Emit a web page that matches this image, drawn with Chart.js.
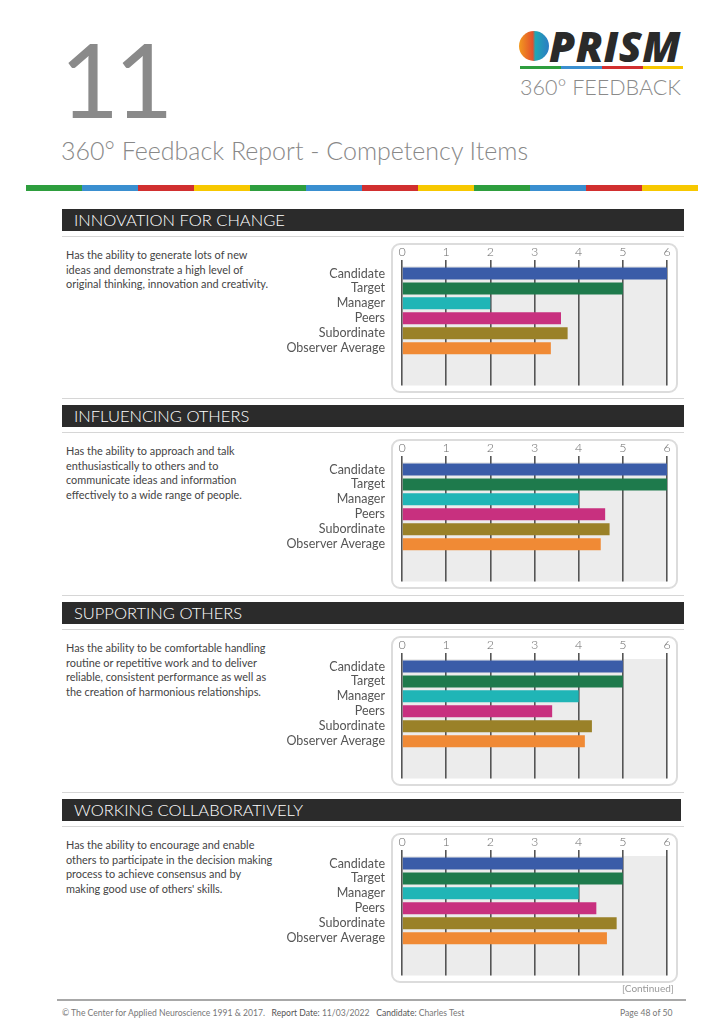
<!DOCTYPE html>
<html><head><meta charset="utf-8">
<script src="https://cdn.jsdelivr.net/npm/chart.js@4.4.1/dist/chart.umd.min.js"></script>
<style>
body{margin:0;width:724px;height:1024px;position:relative;background:#fff;font-family:Lato,"Open Sans",sans-serif;overflow:hidden}
.abs{position:absolute}
.big{left:60px;top:28px;font-size:102px;font-weight:400;color:#8a8a8a;line-height:1;letter-spacing:-5px}
.title{left:61px;top:135px;font-size:25px;font-weight:300;color:#888;white-space:nowrap}
.stripe{top:185px;height:6px;}
.hdr{left:62px;width:622px;height:22px;background:#2b2b2b;color:#fff;font-size:16.5px;font-weight:300;line-height:23px;padding-left:12px;box-sizing:border-box;white-space:nowrap}
.hline{left:62px;width:622px;height:1px;background:#d6d6d6}
.desc{left:66px;width:230px;font-size:10.9px;line-height:14.5px;color:#444;white-space:nowrap}
.box{left:391px;width:287px;height:150px;border:2.5px solid #dcdcdc;border-radius:9px;box-sizing:border-box;background:#fff}
canvas{position:absolute}
.foot{top:1008px;font-size:8.6px;color:#777;white-space:nowrap}
</style></head><body>
<div class="abs big">11</div>
<div class="abs" style="left:519px;top:31px;width:30px;height:30px;border-radius:50%;background:linear-gradient(90deg,#f39a1f 0%,#e2502c 46%,#1fa7b3 54%,#2c7cc4 100%)"></div>
<div class="abs" style="left:549px;top:21px;font-family:'Open Sans';font-weight:800;font-style:italic;font-size:42px;color:#2a2a2a;line-height:50px;letter-spacing:0.5px">PRISM</div>
<div class="abs" style="left:520px;top:66px;width:41px;height:3px;background:#2e9e3e"></div>
<div class="abs" style="left:561px;top:66px;width:41px;height:3px;background:#3a8fd0"></div>
<div class="abs" style="left:602px;top:66px;width:41px;height:3px;background:#d12f2f"></div>
<div class="abs" style="left:643px;top:66px;width:40px;height:3px;background:#f7c800"></div>
<div class="abs" style="left:520px;top:74px;font-size:21.5px;color:#8a8a8a;font-weight:300;line-height:26px;white-space:nowrap;letter-spacing:0px">360° FEEDBACK</div>
<div class="abs title">360° Feedback Report - Competency Items</div>
<div id="stripes"></div>
<div id="sections"></div>
<div class="abs" style="left:622px;top:982px;font-size:10px;color:#999">[Continued]</div>
<div class="abs" style="left:57px;top:999px;width:629px;height:2px;background:#a8a8a8"></div>
<div class="abs foot" style="left:62px">© The Center for Applied Neuroscience 1991 &amp; 2017. &nbsp;&nbsp;<span style="color:#555">Report Date:</span> 11/03/2022 &nbsp;&nbsp;<span style="color:#555">Candidate:</span> Charles Test</div>
<div class="abs foot" style="left:620px">Page 48 of 50</div>
<script>
const categories = ['Candidate','Target','Manager','Peers','Subordinate','Observer Average'];
const tickLabels = ['0','1','2','3','4','5','6'];
const barColors = ['#3a5ca8','#1e7a4c','#20b5b6','#c8307f','#9a8128','#f08a35'];
const innovationValues = [6, 5, 2, 3.6, 3.75, 3.37];
const influencingValues = [6, 6, 4, 4.6, 4.7, 4.5];
const supportingValues = [5, 5, 4, 3.4, 4.3, 4.14];
const collaborativeValues = [5, 5, 4, 4.4, 4.86, 4.64];
const sectionTitles = ['INNOVATION FOR CHANGE','INFLUENCING OTHERS','SUPPORTING OTHERS','WORKING COLLABORATIVELY'];
const sectionDescriptions = [
  ['Has the ability to generate lots of new','ideas and demonstrate a high level of','original thinking, innovation and creativity.'],
  ['Has the ability to approach and talk','enthusiastically to others and to','communicate ideas and information','effectively to a wide range of people.'],
  ['Has the ability to be comfortable handling','routine or repetitive work and to deliver','reliable, consistent performance as well as','the creation of harmonious relationships.'],
  ['Has the ability to encourage and enable','others to participate in the decision making','process to achieve consensus and by',"making good use of others' skills."]
];
const sectionValues = [innovationValues, influencingValues, supportingValues, collaborativeValues];
const sectionTops = [209, 405, 602, 799];

// stripe
const stripeColors = ['#2e9e3e','#3a8fd0','#d12f2f','#f7c800'];
let sh = '';
for (let i = 0; i < 12; i++) {
  const x0 = 26 + i * 56;
  sh += `<div class="abs stripe" style="left:${x0}px;width:56px;background:${stripeColors[i%4]}"></div>`;
}
document.getElementById('stripes').innerHTML = sh;

const bgPlugin = {
  id: 'plotBg',
  beforeDraw(chart) {
    const a = chart.chartArea, c = chart.ctx;
    c.save(); c.fillStyle = '#ececec';
    c.fillRect(a.left, a.top, a.right - a.left, a.bottom - a.top);
    c.restore();
  }
};

const secEl = document.getElementById('sections');
sectionTops.forEach((top, i) => {
  const wrap = document.createElement('div');
  const hdrW = i === 3 ? 619 : 622;
  wrap.innerHTML =
    (i > 0 ? `<div class="abs hline" style="top:${top-7}px"></div>` : '') +
    `<div class="abs hdr" style="top:${top}px;width:${hdrW}px">${sectionTitles[i]}</div>` +
    `<div class="abs hline" style="top:${top+27}px"></div>` +
    `<div class="abs desc" style="top:${top+39}px">${sectionDescriptions[i].join('<br>')}</div>` +
    `<div class="abs box" style="top:${top+34}px"></div>`;
  secEl.appendChild(wrap);
  const cv = document.createElement('canvas');
  cv.style.left = '280px'; cv.style.top = (top + 34) + 'px';
  cv.style.width = '410px'; cv.style.height = '150px';
  cv.width = 410; cv.height = 150;
  secEl.appendChild(cv);
  new Chart(cv, {
    type: 'bar',
    data: {
      labels: [...categories, '', ''],
      datasets: [{
        data: sectionValues[i],
        backgroundColor: barColors,
        borderWidth: 0,
        barPercentage: 0.8,
        categoryPercentage: 1.0
      }]
    },
    options: {
      indexAxis: 'y',
      responsive: false,
      animation: false,
      devicePixelRatio: 1,
      layout: { padding: { left: 0, right: 23, top: 0, bottom: 7 } },
      plugins: { legend: { display: false }, tooltip: { enabled: false } },
      scales: {
        x: {
          position: 'top', min: 0, max: 6,
          afterFit(s) { s.height = 23; },
          border: { display: false },
          grid: { color: '#555', lineWidth: 1.6, drawTicks: true, tickLength: 6, tickColor: '#555' },
          ticks: { stepSize: 1, padding: 1, color: '#6a6a6a', font: { family: 'Lato', size: 12.5, weight: '300' },
                   callback: (v) => tickLabels[v] }
        },
        y: {
          afterFit(s) { s.width = 122; },
          border: { display: false },
          grid: { display: true, drawOnChartArea: false, drawTicks: true, tickLength: 17, tickColor: 'rgba(0,0,0,0)', color: 'rgba(0,0,0,0)' },
          ticks: { padding: 0, color: '#555', font: { family: 'Lato', size: 12.5 }, autoSkip: false }
        }
      }
    },
    plugins: [bgPlugin]
  });
});
</script>
</body></html>
